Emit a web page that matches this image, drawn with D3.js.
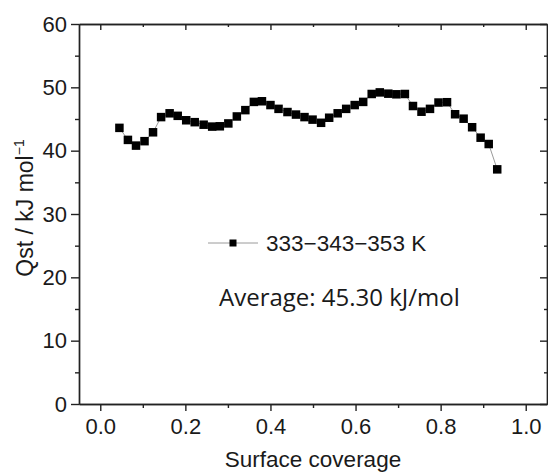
<!DOCTYPE html>
<html>
<head>
<meta charset="utf-8">
<script src="https://cdn.jsdelivr.net/npm/d3@7"></script>
<style>
  body { margin: 0; background: #fff; }
  svg text { font-family: "Liberation Sans", Arial, sans-serif; fill: #1a1a1a; }
</style>
</head>
<body>
<div id="chart"></div>
<script>
const coverage = [0.045, 0.065, 0.084, 0.104, 0.124, 0.143, 0.163, 0.182, 0.202, 0.222,
    0.243, 0.263, 0.281, 0.301, 0.321, 0.341, 0.361, 0.380, 0.400, 0.419,
    0.440, 0.460, 0.480, 0.499, 0.519, 0.538, 0.558, 0.578, 0.598, 0.618,
    0.638, 0.657, 0.677, 0.696, 0.716, 0.735, 0.755, 0.775, 0.795, 0.815,
    0.834, 0.854, 0.874, 0.894, 0.913, 0.933];
const qst = [43.6, 41.7, 40.8, 41.5, 42.9, 45.3, 45.9, 45.5, 44.8, 44.5,
    44.1, 43.8, 43.85, 44.3, 45.4, 46.4, 47.7, 47.8, 47.2, 46.6,
    46.1, 45.7, 45.3, 44.9, 44.4, 45.2, 45.9, 46.6, 47.2, 47.7,
    48.95, 49.2, 49.0, 48.9, 48.95, 47.05, 46.15, 46.6, 47.6, 47.65,
    45.75, 45.05, 43.7, 42.05, 41.05, 37.05];
const xMajor = [0, 0.2, 0.4, 0.6, 0.8, 1.0];
const xMinor = [0.1, 0.3, 0.5, 0.7, 0.9];
const yMajor = [0, 10, 20, 30, 40, 50, 60];
const yMinor = [5, 15, 25, 35, 45, 55];
const seriesName = "333\u2212343\u2212353 K";
const note = "Average: 45.30 kJ/mol";

const W = 548, H = 475;
const plotL = 79, plotR = 547, plotT = 24, plotB = 404;

const svg = d3.select("#chart").append("svg")
    .attr("width", W)
    .attr("height", H);

const x = d3.scaleLinear().domain([-0.05, 1.05]).range([plotL, plotR]);
const y = d3.scaleLinear().domain([0, 60]).range([plotB, plotT]);

function styleAxis(g) {
    g.selectAll("path, line").attr("stroke", "#222").attr("stroke-width", 1.4);
    g.selectAll("text").attr("font-size", 22).attr("fill", "#1a1a1a");
}

// bottom
svg.append("g")
    .attr("transform", `translate(0,${plotB})`)
    .call(d3.axisBottom(x).tickValues(xMajor).tickSize(7).tickSizeOuter(0).tickPadding(7)
        .tickFormat(d3.format(".1f")))
    .call(styleAxis);
svg.append("g")
    .attr("transform", `translate(0,${plotB})`)
    .call(d3.axisBottom(x).tickValues(xMinor).tickSize(4).tickSizeOuter(0).tickFormat(""))
    .call(styleAxis);

// top (ticks inward)
svg.append("g")
    .attr("transform", `translate(0,${plotT})`)
    .call(d3.axisBottom(x).tickValues(xMajor).tickSize(6).tickSizeOuter(0).tickFormat(""))
    .call(styleAxis);
svg.append("g")
    .attr("transform", `translate(0,${plotT})`)
    .call(d3.axisBottom(x).tickValues(xMinor).tickSize(3).tickSizeOuter(0).tickFormat(""))
    .call(styleAxis);

// left
svg.append("g")
    .attr("transform", `translate(${plotL},0)`)
    .call(d3.axisLeft(y).tickValues(yMajor).tickSize(8).tickSizeOuter(0).tickPadding(4))
    .call(styleAxis);
svg.append("g")
    .attr("transform", `translate(${plotL},0)`)
    .call(d3.axisLeft(y).tickValues(yMinor).tickSize(4).tickSizeOuter(0).tickFormat(""))
    .call(styleAxis);

// right (ticks inward)
svg.append("g")
    .attr("transform", `translate(${plotR},0)`)
    .call(d3.axisLeft(y).tickValues(yMajor).tickSize(7).tickSizeOuter(0).tickFormat(""))
    .call(styleAxis);
svg.append("g")
    .attr("transform", `translate(${plotR},0)`)
    .call(d3.axisLeft(y).tickValues(yMinor).tickSize(3).tickSizeOuter(0).tickFormat(""))
    .call(styleAxis);

// axis titles
svg.append("text")
    .attr("x", 313).attr("y", 467)
    .attr("text-anchor", "middle")
    .attr("font-size", 22.5)
    .text("Surface coverage");

const yt = svg.append("text")
    .attr("transform", "translate(33,208) rotate(-90)")
    .attr("text-anchor", "middle")
    .attr("font-size", 23);
yt.append("tspan").text("Qst / kJ mol");
yt.append("tspan").attr("dy", -9).attr("font-size", 14).text("\u22121");

// data
const data = coverage.map((c, i) => ({ c, q: qst[i] }));

svg.append("path")
    .datum(data)
    .attr("fill", "none")
    .attr("stroke", "#9a9a9a")
    .attr("stroke-width", 1)
    .attr("d", d3.line().x(d => x(d.c)).y(d => y(d.q)));

const ms = 8.5;
svg.selectAll("rect.pt")
    .data(data)
    .join("rect")
    .attr("class", "pt")
    .attr("x", d => x(d.c) - ms / 2)
    .attr("y", d => y(d.q) - ms / 2)
    .attr("width", ms)
    .attr("height", ms)
    .attr("fill", "#000");

// legend
const lg = svg.append("g").attr("transform", "translate(208,243)");
lg.append("line").attr("x1", 0).attr("x2", 50).attr("y1", 0).attr("y2", 0)
    .attr("stroke", "#9a9a9a").attr("stroke-width", 1);
lg.append("rect").attr("x", 25 - 3.5).attr("y", -3.5).attr("width", 7).attr("height", 7)
    .attr("fill", "#000");
lg.append("text").attr("x", 58).attr("y", 8).attr("font-size", 22.5).text(seriesName);

svg.append("text")
    .attr("x", 219).attr("y", 306)
    .attr("font-size", 24)
    .style("font-family", "'Open Sans', 'Noto Sans', sans-serif")
    .text(note);
</script>
</body>
</html>
